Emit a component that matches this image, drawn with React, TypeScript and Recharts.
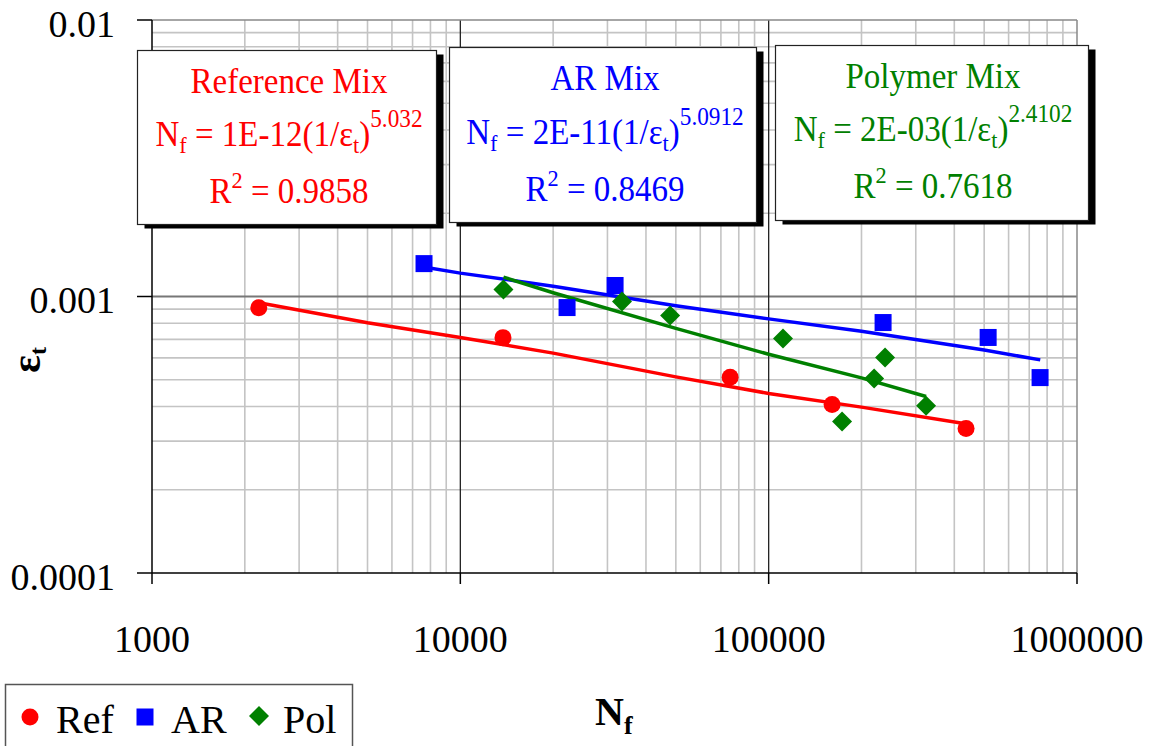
import React from 'react';
import { ScatterChart, Scatter, XAxis, YAxis, CartesianGrid } from 'recharts';

const FONT = '"Liberation Serif", "Times New Roman", Times, serif';

const xTicks = [1000, 10000, 100000, 1000000];
const yTicks = [0.0001, 0.001, 0.01];
const xMinor = [2000, 3000, 4000, 5000, 6000, 7000, 8000, 9000, 20000, 30000, 40000, 50000, 60000, 70000, 80000, 90000, 200000, 300000, 400000, 500000, 600000, 700000, 800000, 900000];
const yMinor = [0.0002, 0.0003, 0.0004, 0.0005, 0.0006, 0.0007, 0.0008, 0.0009, 0.002, 0.003, 0.004, 0.005, 0.006, 0.007, 0.008, 0.009];
const xMajor = [10000, 100000];
const yMajor = [0.001];

const refPoints = [
  { x: 2220, y: 0.00091 },
  { x: 13750, y: 0.00071 },
  { x: 75000, y: 0.00051 },
  { x: 160600, y: 0.000407 },
  { x: 436700, y: 0.000333 },
];
const arPoints = [
  { x: 7625, y: 0.001315 },
  { x: 22190, y: 0.000912 },
  { x: 31760, y: 0.001096 },
  { x: 235000, y: 0.000805 },
  { x: 515000, y: 0.000711 },
  { x: 759000, y: 0.000509 },
];
const polPoints = [
  { x: 13800, y: 0.00106 },
  { x: 33450, y: 0.00096 },
  { x: 47900, y: 0.000854 },
  { x: 111300, y: 0.000705 },
  { x: 238500, y: 0.000602 },
  { x: 219800, y: 0.000505 },
  { x: 324000, y: 0.000403 },
  { x: 173000, y: 0.000353 },
];

const refTrend = [
  { x: 2200, y: 0.000951 },
  { x: 5000, y: 0.000804 },
  { x: 10000, y: 0.000711 },
  { x: 20000, y: 0.000624 },
  { x: 50000, y: 0.000512 },
  { x: 100000, y: 0.000446 },
  { x: 200000, y: 0.000398 },
  { x: 430000, y: 0.000347 },
];
const arTrend = [
  { x: 7600, y: 0.001279 },
  { x: 10000, y: 0.001215 },
  { x: 20000, y: 0.00109 },
  { x: 50000, y: 0.000926 },
  { x: 100000, y: 0.00083 },
  { x: 200000, y: 0.000749 },
  { x: 500000, y: 0.00064 },
  { x: 760000, y: 0.00059 },
];
const polTrend = [
  { x: 13800, y: 0.001175 },
  { x: 20000, y: 0.001032 },
  { x: 50000, y: 0.000767 },
  { x: 100000, y: 0.000618 },
  { x: 200000, y: 0.000508 },
  { x: 324000, y: 0.000435 },
];

const seriesNames = ['Ref', 'AR', 'Pol'];
const boxTitles = ['Reference Mix', 'AR Mix', 'Polymer Mix'];
const coefs = ['1E-12', '2E-11', '2E-03'];
const exps = ['5.032', '5.0912', '2.4102'];
const r2s = ['0.9858', '0.8469', '0.7618'];

const RED = '#ff0000';
const BLUE = '#0000ff';
const GREEN = '#008000';

const fmtX = (v: number) => String(v);
const fmtY = (v: number) => (v === 0.0001 ? '0.0001' : v === 0.001 ? '0.001' : '0.01');

const XTick = (props: any) => {
  const { x, y, payload } = props;
  return (
    <text x={x} y={y} dy={68} textAnchor="middle" fontFamily={FONT} fontSize={38} fill="#000">
      {fmtX(payload.value)}
    </text>
  );
};

const YTick = (props: any) => {
  const { x, y, payload } = props;
  return (
    <text x={x} y={y} dy={16.5} textAnchor="end" fontFamily={FONT} fontSize={38} fill="#000">
      {fmtY(payload.value)}
    </text>
  );
};

const Circle = (props: any) => <circle cx={props.cx} cy={props.cy} r={8.5} fill={RED} />;
const Square = (props: any) => (
  <rect x={props.cx - 8.5} y={props.cy - 8.5} width={17} height={17} fill={BLUE} />
);
const Diamond = (props: any) => (
  <polygon
    points={`${props.cx},${props.cy - 10} ${props.cx + 10},${props.cy} ${props.cx},${props.cy + 10} ${props.cx - 10},${props.cy}`}
    fill={GREEN}
  />
);
const NoShape = () => <g />;

const EqBox = ({ i, x, y, w, h, color, cx, ty, ey, ry }: any) => (
  <g>
    <rect x={x + 7} y={y + 4} width={w} height={h} fill="#000" />
    <rect x={x} y={y} width={w} height={h} fill="#fff" stroke="#222" strokeWidth={1.2} />
    <g transform={`translate(${cx},0) scale(0.93,1)`}>
      <text x={0} y={ty} textAnchor="middle" fontFamily={FONT} fontSize={35.5} fill={color}>
        {boxTitles[i]}
      </text>
      <text x={0} y={ey} textAnchor="middle" fontFamily={FONT} fontSize={35.5} fill={color}>
        N
        <tspan fontSize={24} dy={7}>f</tspan>
        <tspan dy={-7}>{' = ' + coefs[i] + '(1/ε'}</tspan>
        <tspan fontSize={24} dy={7}>t</tspan>
        <tspan dy={-7}>)</tspan>
        <tspan fontSize={25} dy={-19}>{exps[i]}</tspan>
      </text>
      <text x={0} y={ry} textAnchor="middle" fontFamily={FONT} fontSize={35.5} fill={color}>
        R
        <tspan fontSize={24} dy={-15}>2</tspan>
        <tspan dy={15}>{' = ' + r2s[i]}</tspan>
      </text>
    </g>
  </g>
);

export default function App() {
  return (
    <div style={{ position: 'absolute', left: 0, top: 0, width: 1156, height: 746, overflow: 'hidden', background: '#fff' }}>
      <ScatterChart width={1156} height={746} margin={{ top: 20, right: 79, bottom: 0, left: 0 }}>
        <CartesianGrid
          stroke="#c4c4c4"
          strokeWidth={1.6}
          verticalValues={xMinor}
          horizontalValues={yMinor}
          fill="#fff"
        />
        <CartesianGrid stroke="#777" strokeWidth={2} vertical={false} horizontalValues={yMajor} />
        <CartesianGrid stroke="#222" strokeWidth={1.3} horizontal={false} verticalValues={xMajor} />
        <CartesianGrid stroke="#888" strokeWidth={1.5} horizontalValues={[0.01]} verticalValues={[1000000]} />
        <XAxis
          type="number"
          dataKey="x"
          scale="log"
          domain={[1000, 1000000]}
          ticks={xTicks}
          allowDataOverflow
          height={173}
          tickSize={11}
          tickMargin={0}
          axisLine={{ stroke: '#000', strokeWidth: 1.5 }}
          tickLine={{ stroke: '#000', strokeWidth: 1.5 }}
          tick={<XTick />}
          interval={0}
        />
        <YAxis
          type="number"
          dataKey="y"
          scale="log"
          domain={[0.0001, 0.01]}
          ticks={yTicks}
          allowDataOverflow
          width={152}
          tickSize={15}
          tickMargin={22}
          axisLine={{ stroke: '#000', strokeWidth: 1.5 }}
          tickLine={{ stroke: '#000', strokeWidth: 1.5 }}
          tick={<YTick />}
          interval={0}
        />
        <Scatter data={refTrend} line={{ stroke: RED, strokeWidth: 3.5 }} lineType="joint" shape={<NoShape />} isAnimationActive={false} />
        <Scatter data={arTrend} line={{ stroke: BLUE, strokeWidth: 3.5 }} lineType="joint" shape={<NoShape />} isAnimationActive={false} />
        <Scatter data={polTrend} line={{ stroke: GREEN, strokeWidth: 3.5 }} lineType="joint" shape={<NoShape />} isAnimationActive={false} />
        <Scatter name={seriesNames[0]} data={refPoints} shape={<Circle />} isAnimationActive={false} />
        <Scatter name={seriesNames[1]} data={arPoints} shape={<Square />} isAnimationActive={false} />
        <Scatter name={seriesNames[2]} data={polPoints} shape={<Diamond />} isAnimationActive={false} />
      </ScatterChart>
      <svg width={1156} height={746} style={{ position: 'absolute', left: 0, top: 0, pointerEvents: 'none' }}>
        <EqBox i={0} x={137.5} y={50.5} w={299} h={174} color={RED} cx={289} ty={93} ey={146} ry={203} />
        <EqBox i={1} x={449.5} y={47.5} w={307} h={175} color={BLUE} cx={605} ty={90} ey={144} ry={201} />
        <EqBox i={2} x={775.5} y={45.5} w={313} h={175} color={GREEN} cx={933} ty={88} ey={141} ry={198} />
        <text transform="translate(40,360) rotate(-90)" textAnchor="middle" fontFamily={FONT} fontWeight="bold" fontSize={42} fill="#000">
          ε<tspan fontSize={24} dy={6}>t</tspan>
        </text>
        <text x={595} y={725} fontFamily={FONT} fontWeight="bold" fontSize={40} fill="#000">
          N<tspan fontSize={26} dy={9}>f</tspan>
        </text>
        <rect x={5.5} y={684.5} width={347} height={80} fill="#fff" stroke="#555" strokeWidth={1.5} />
        <circle cx={30} cy={717} r={8.5} fill={RED} />
        <text x={56} y={733} fontFamily={FONT} fontSize={40} fill="#000">{seriesNames[0]}</text>
        <rect x={136.5} y={708.5} width={17} height={17} fill={BLUE} />
        <text x={171} y={733} fontFamily={FONT} fontSize={40} fill="#000">{seriesNames[1]}</text>
        <polygon points="259,706 269,716 259,726 249,716" fill={GREEN} />
        <text x={283} y={733} fontFamily={FONT} fontSize={40} fill="#000">{seriesNames[2]}</text>
      </svg>
    </div>
  );
}
